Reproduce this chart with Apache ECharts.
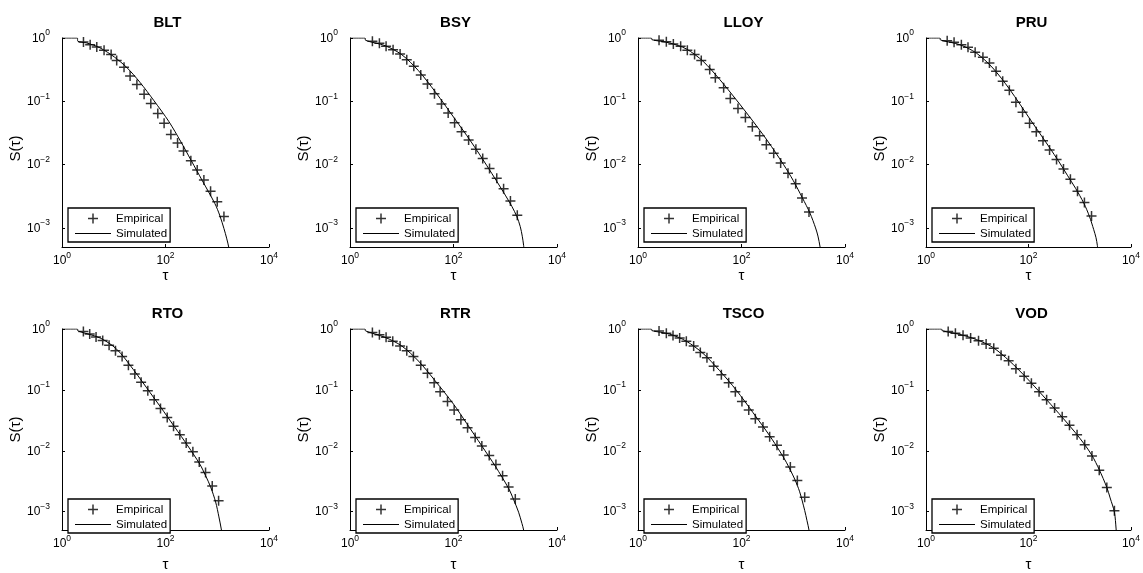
<!DOCTYPE html>
<html>
<head>
<meta charset="utf-8">
<script src="https://cdn.jsdelivr.net/npm/echarts@6/dist/echarts.min.js"></script>
<style>
  html, body { margin: 0; padding: 0; background: #fff; }
  #chart { width: 1143px; height: 573px; }
</style>
</head>
<body>
<div id="chart"></div>
<script>
// Survival function S(tau) of inter-event times: empirical points and simulated model, per stock.
const tickers = ['BLT', 'BSY', 'LLOY', 'PRU', 'RTO', 'RTR', 'TSCO', 'VOD'];

// [tau, S(tau)]
const empBLT = [[2.6,0.865],[3.5,0.785],[4.7,0.72],[6.5,0.64],[8.9,0.55],[11.4,0.44],[15.8,0.346],[20.7,0.25],[28,0.185],[38.6,0.129],[52,0.092],[71,0.064],[94,0.045],[127,0.030],[171,0.022],[223,0.0164],[309,0.0115],[410,0.0082],[552,0.0057],[743,0.0038],[1000,0.0026],[1346,0.00152]];
const simBLT = [[1,1],[1.98,1],[2.02,0.89],[3,0.835],[5.4,0.70],[10.3,0.50],[18,0.34],[32,0.20],[60,0.102],[116,0.048],[195,0.0235],[314,0.0116],[513,0.0056],[901,0.00242],[1127,0.00155],[1346,0.00098],[1517,0.00069],[1683,0.00048],[1720,0.0004]];

const empBSY = [[2.71,0.886],[3.70,0.824],[4.98,0.738],[6.80,0.654],[9.29,0.559],[12.5,0.455],[17.1,0.357],[23.3,0.260],[31.4,0.188],[42.9,0.132],[58.6,0.0908],[78.9,0.0655],[105,0.046],[143,0.0330],[196,0.0244],[271,0.0175],[367,0.0125],[497,0.0087],[685,0.0061],[929,0.00415],[1259,0.00267],[1708,0.00158]];
const simBSY = [[1,1],[1.95,1],[2.0,0.919],[4.76,0.757],[10,0.545],[21,0.305],[44.2,0.142],[112.7,0.0493],[181,0.0287],[283,0.0168],[442,0.0096],[690,0.0054],[1000,0.0033],[1346,0.00218],[1683,0.0015],[1950,0.00105],[2133,0.00074],[2264,0.00053],[2300,0.00045]];

const empLLOY = [[2.55,0.919],[3.53,0.876],[4.82,0.805],[6.67,0.74],[8.98,0.64],[12.4,0.547],[16.7,0.44],[24.3,0.318],[31.2,0.235],[45.2,0.164],[60.8,0.111],[85.5,0.0767],[119,0.0554],[162,0.0395],[224,0.0285],[302,0.0206],[419,0.0151],[571,0.0106],[792,0.0073],[1114,0.00497],[1476,0.00296],[2014,0.00178]];
const simLLOY = [[1,1],[1.81,1],[1.86,0.94],[4.09,0.835],[8.59,0.672],[18,0.43],[37.8,0.222],[80,0.1046],[160,0.0506],[320,0.0236],[650,0.01],[1000,0.0056],[1500,0.00299],[2100,0.00172],[2700,0.001],[3000,0.000744],[3300,0.0005],[3400,0.0004]];

const empPRU = [[2.59,0.908],[3.53,0.855],[4.9,0.785],[6.6,0.712],[9.1,0.594],[12.9,0.495],[17.3,0.403],[23.3,0.298],[31.4,0.207],[42.3,0.149],[56.9,0.0964],[76.6,0.067],[105,0.0452],[142,0.033],[192,0.0238],[258,0.017],[353,0.012],[482,0.0085],[658,0.0059],[905,0.0038],[1235,0.00253],[1700,0.00155]];
const simPRU = [[1,1],[1.87,1],[1.92,0.93],[4.55,0.785],[9.57,0.58],[20.1,0.336],[42.3,0.157],[112.5,0.0493],[254,0.0189],[396,0.011],[574,0.0068],[831,0.00422],[1202,0.00246],[1549,0.00152],[1876,0.00094],[2080,0.0007],[2208,0.00053],[2250,0.00044]];

const empRTO = [[2.59,0.908],[3.43,0.824],[4.55,0.738],[6.12,0.647],[8.13,0.539],[10.8,0.439],[14.5,0.353],[19.2,0.254],[25.5,0.183],[33.8,0.134],[45.5,0.0964],[60.4,0.0687],[80,0.0495],[108,0.0353],[143,0.0254],[189,0.0183],[251,0.0134],[338,0.00964],[449,0.00655],[594,0.00439],[800,0.00264],[1062,0.00151]];
const simRTO = [[1,1],[1.98,1],[2.03,0.93],[5.44,0.712],[11.4,0.466],[24,0.215],[50.5,0.09],[80,0.0525],[149,0.0248],[271,0.012],[462,0.006],[595,0.0039],[743,0.00256],[929,0.00145],[1077,0.00082],[1195,0.00052],[1230,0.00043]];

const empRTR = [[2.71,0.875],[3.7,0.804],[4.98,0.73],[6.7,0.631],[9.29,0.526],[12.5,0.439],[16.8,0.353],[23.3,0.254],[31.4,0.188],[42.3,0.131],[55.2,0.093],[76.6,0.0647],[103,0.0466],[139,0.0324],[187,0.0239],[262,0.0166],[353,0.012],[490,0.00834],[660,0.00594],[888,0.00389],[1161,0.00254],[1563,0.00162]];
const simRTR = [[1,1],[1.95,1],[2.0,0.93],[4.76,0.73],[10,0.526],[21,0.298],[44.2,0.141],[100,0.0584],[181,0.0279],[353,0.012],[640,0.00561],[1161,0.00241],[1449,0.00158],[1811,0.00098],[2103,0.00064],[2264,0.0005],[2300,0.0004]];

const empTSCO = [[2.55,0.93],[3.53,0.855],[4.75,0.785],[6.38,0.712],[8.59,0.631],[11.9,0.526],[16,0.413],[21.5,0.336],[29,0.245],[40.8,0.177],[56.5,0.131],[76,0.093],[102,0.0647],[138,0.0466],[185,0.0336],[260,0.0245],[350,0.017],[485,0.0123],[653,0.00855],[879,0.0054],[1200,0.00324],[1663,0.00173]];
const simTSCO = [[1,1],[1.81,1],[1.86,0.94],[4.09,0.824],[8.59,0.631],[18,0.398],[37.8,0.207],[79.4,0.0989],[167,0.0423],[350,0.0177],[546,0.00988],[735,0.00647],[1064,0.00344],[1330,0.00212],[1663,0.00105],[1845,0.00071],[2014,0.0005],[2060,0.0004]];

const empVOD = [[2.71,0.908],[3.75,0.855],[5.28,0.786],[7.43,0.713],[10.6,0.64],[14.9,0.567],[21,0.485],[29.2,0.372],[41,0.3],[56.9,0.222],[82.4,0.168],[114,0.129],[161,0.093],[226,0.0689],[323,0.0503],[455,0.0363],[631,0.0262],[888,0.0183],[1250,0.0126],[1733,0.00824],[2404,0.0048],[3381,0.0025],[4755,0.00104]];
const simVOD = [[1,1],[2.01,1],[2.06,0.94],[4.55,0.815],[9.57,0.672],[20.1,0.50],[42.3,0.30],[88.8,0.162],[187,0.082],[392,0.041],[824,0.0198],[1250,0.0126],[1733,0.0084],[2404,0.0049],[3381,0.0025],[3924,0.00168],[4755,0.00098],[5129,0.00052],[5200,0.00042]];

const empirical = { BLT: empBLT, BSY: empBSY, LLOY: empLLOY, PRU: empPRU, RTO: empRTO, RTR: empRTR, TSCO: empTSCO, VOD: empVOD };
const simulated = { BLT: simBLT, BSY: simBSY, LLOY: simLLOY, PRU: simPRU, RTO: simRTO, RTR: simRTR, TSCO: simTSCO, VOD: simVOD };

const xRange = [1, 1e4];
const yRange = [5e-4, 1];
const legendNames = ['Empirical', 'Simulated'];

// Page layout of the 2 x 4 panel grid
const colLeft = [62, 350, 638, 926];
const rowTop = [38, 329];
const plotW = 207;
const plotH = [209, 208];
const xNameGap = [15, 27];

const FONT = 'Liberation Sans, Arial, Helvetica, sans-serif';
const PLUS = 'path://M4.25,0h1.5v4.25h4.25v1.5h-4.25v4.25h-1.5v-4.25h-4.25v-1.5h4.25z';
const DASH = 'path://M0,0h36v1h-36z';

// Label "10^k" with a raised exponent; blank for non-decade values
function powerLabel(v) {
  const e = Math.log10(v);
  const r = Math.round(e);
  if (Math.abs(e - r) > 1e-6) return '';
  return '{b|10}{s|' + String(r).replace('-', '\u2212') + '}';
}
const labelRich = {
  b: { fontSize: 12, lineHeight: 13, color: '#000', fontFamily: FONT, verticalAlign: 'bottom' },
  s: { fontSize: 8.5, lineHeight: 9, color: '#000', fontFamily: FONT, verticalAlign: 'bottom', padding: [0, 0, 7, 0] }
};
const axisLine = { show: true, onZero: false, lineStyle: { color: '#000', width: 1 } };
const axisTick = { show: true, inside: true, length: 3, lineStyle: { color: '#000', width: 1 } };

const grid = [], xAxis = [], yAxis = [], series = [], title = [], legend = [];

tickers.forEach((name, i) => {
  const row = Math.floor(i / 4), col = i % 4;
  const left = colLeft[col], top = rowTop[row], h = plotH[row];

  grid.push({ left: left, top: top, width: plotW, height: h, containLabel: false });

  xAxis.push({
    gridIndex: i, type: 'log', logBase: 10, min: xRange[0], max: xRange[1], interval: 2,
    axisLine: axisLine, axisTick: axisTick, splitLine: { show: false },
    axisLabel: { margin: 7, formatter: powerLabel, rich: labelRich, showMinLabel: true, showMaxLabel: true },
    name: '\u03c4', nameLocation: 'middle', nameGap: xNameGap[row],
    nameTextStyle: { fontSize: 15, color: '#000', fontFamily: FONT }
  });

  yAxis.push({
    gridIndex: i, type: 'log', logBase: 10, min: yRange[0], max: yRange[1],
    axisLine: axisLine, axisTick: axisTick, splitLine: { show: false },
    axisLabel: { margin: 12, formatter: powerLabel, rich: labelRich, showMinLabel: true, showMaxLabel: true },
    name: 'S(\u03c4)', nameLocation: 'middle', nameGap: 38,
    nameTextStyle: { fontSize: 15, color: '#000', fontFamily: FONT, padding: row === 0 ? [0, 12, 0, 0] : 0 }
  });

  series.push({
    name: 'Empirical', type: 'scatter', xAxisIndex: i, yAxisIndex: i,
    symbol: PLUS, symbolSize: 10,
    itemStyle: { color: '#000' },
    data: empirical[name], silent: true, z: 3
  });
  series.push({
    name: 'Simulated', type: 'line', xAxisIndex: i, yAxisIndex: i,
    showSymbol: false, symbol: 'none', smooth: 0.3, clip: true,
    lineStyle: { color: '#000', width: 1 }, itemStyle: { color: '#000' },
    data: simulated[name], silent: true, z: 2
  });

  title.push({
    text: name, left: left + plotW / 2 + 2, top: top - 23, textAlign: 'center', padding: 0,
    textStyle: { fontSize: 15, fontWeight: 'bold', color: '#000', fontFamily: FONT }
  });

  legend.push({
    data: [{ name: legendNames[0], icon: PLUS }, { name: legendNames[1], icon: DASH }],
    orient: 'vertical', left: left + 6, top: top + 170,
    itemWidth: 36, itemHeight: 10, itemGap: 2, padding: [4, 3, 2, 7],
    symbolKeepAspect: true,
    borderColor: '#000', borderWidth: 1.3, backgroundColor: '#fff',
    selectedMode: false, inactiveColor: '#000',
    textStyle: { fontSize: 11.5, lineHeight: 13, color: '#000', fontFamily: FONT },
    z: 10
  });
});

const chart = echarts.init(document.getElementById('chart'), null, { renderer: 'canvas' });
chart.setOption({
  animation: false,
  backgroundColor: '#fff',
  textStyle: { fontFamily: FONT },
  grid, xAxis, yAxis, series, title, legend
});
</script>
</body>
</html>
